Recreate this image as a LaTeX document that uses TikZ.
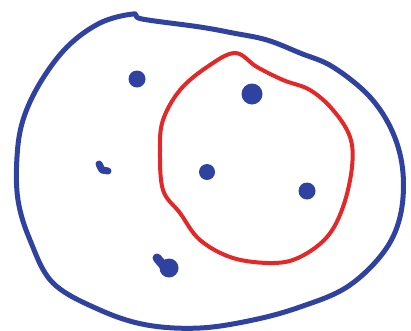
\documentclass[tikz,border=0pt]{standalone}
\definecolor{penblue}{RGB}{48,66,160}
\definecolor{penred}{RGB}{228,40,40}
\begin{document}
\begin{tikzpicture}[x=1pt,y=-1pt,line cap=round,line join=round]
  \useasboundingbox (0,0) rectangle (411,330);
  % outer set
  \draw[penblue,line width=5pt] plot[smooth cycle,tension=0.6] coordinates
    {(133,14) (100,23) (67,47) (40,83) (23,120) (17,157) (18,200) (30,240)
     (53,283) (100,310) (147,325) (200,328) (253,320) (300,307) (347,287)
     (383,253) (400,217) (403,173) (393,133) (370,97) (333,67) (300,53)
     (267,40) (233,33) (200,27) (142,19)};
  % inner set
  \draw[penred,line width=4pt] plot[smooth cycle,tension=0.6] coordinates
    {(235,53) (207,67) (180,90) (163,120) (160,150) (163,190) (180,213)
     (200,240) (233,258) (273,263) (300,257) (327,237) (343,207) (352,167)
     (350,137) (333,110) (310,90) (283,80) (257,67)};
  % points
  \fill[penblue] (137,79) circle (8.5pt); \fill[penblue] (252,94) circle (10.5pt);
  \fill[penblue] (207,172) circle (8pt); \fill[penblue] (307,191) circle (8.5pt);
  \draw[penblue,line width=7pt] (99,164) -- (102,170) -- (108,171);
  \draw[penblue,line width=9pt] (157,258) -- (163,265) -- (171,268);
  \fill[penblue] (169,268) circle (9.5pt);
\end{tikzpicture}
\end{document}
